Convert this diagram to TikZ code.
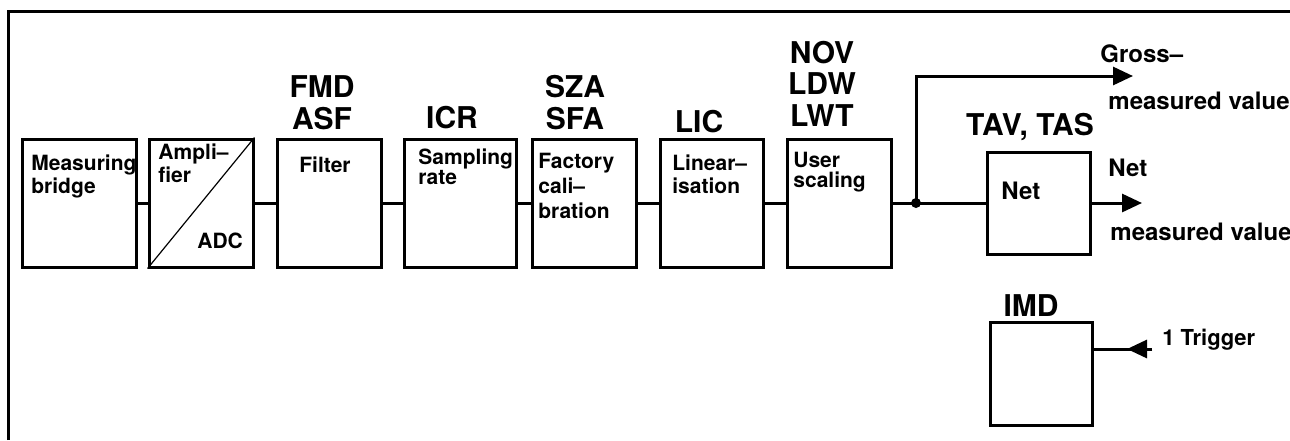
\documentclass[tikz,border=0pt]{standalone}
\usepackage{fontspec}
\setmainfont{TeX Gyre Heros}
\usetikzlibrary{arrows.meta}
\tikzset{
  blk/.style={draw, line width=1.5pt, inner sep=0pt, minimum height=64pt},
  txt/.style={inner sep=0pt, anchor=base west, align=left, font=\bfseries\fontsize{10.5pt}{10pt}\selectfont},
  code/.style={inner sep=0pt, anchor=base, align=center, font=\bfseries\fontsize{15pt}{15.75pt}\selectfont},
  outtxt/.style={inner sep=0pt, anchor=base west, font=\bfseries\fontsize{12pt}{12pt}\selectfont},
  wire/.style={line width=1.5pt},
  arr/.style={wire, -{Triangle[length=10pt,width=9pt]}}
}
\begin{document}
\begin{tikzpicture}[x=0.5pt,y=-0.5pt]
		    \useasboundingbox (0,0) rectangle (1290,440);
		    \draw[wire] (8,440) -- (8,11) -- (1290,11);
		    \begin{scope}
		      \foreach \n/\x/\w in {mb/79/57, adc/201/52, flt/329/52, icr/460/56, cal/584/52, lin/711.5/51.5, usr/839/52} {
		        \node (\n) at (\x,203) [blk, minimum width=\w pt] {};
		      }
		      \foreach \a/\b in {mb/adc, adc/flt, flt/icr, icr/cal, cal/lin, lin/usr} {
		        \draw[wire] (\a) -- (\b);
		      }
		      \draw[line width=0.6pt] (adc.south west) -- (adc.north east);
		      % multi-line nodes sit on the baseline of their last line
		      \node (tmb) at (31,193) [txt] {Measuring\\bridge};
		      \node (tamp) at (158,182) [txt] {Ampli--\\fier};
		      \node (tadc) at (197,248) [txt] {ADC};
		      \node (tflt) at (299,172) [txt] {Filter};
		      \node (ticr) at (418,184) [txt] {Sampling\\rate};
		      \node (tcal) at (538,218) [txt, font=\bfseries\fontsize{10.5pt}{12.5pt}\selectfont] {Factory\\cali--\\bration};
		      \node (tlin) at (672,193) [txt, font=\bfseries\fontsize{10.5pt}{11.5pt}\selectfont] {Linear--\\isation};
		      \node (tusr) at (793,187) [txt] {User\\scaling};
		      \node (cflt) at (322,129) [code] {FMD\\ASF};
		      \node (cicr) at (452,128) [code] {ICR};
		      \node (ccal) at (575,129) [code] {SZA\\SFA};
		      \node (clin) at (699,132) [code] {LIC};
		      \node (cusr) at (822,126) [code] {NOV\\LDW\\LWT};
		    \end{scope}
		    \begin{scope}
		      \node (net) at (1038.5,203) [blk, minimum width=51.5pt, minimum height=51pt] {};
		      \node (imd) at (1041,373.5) [blk, minimum width=51pt, minimum height=51.5pt] {};
		      \node (tnet) at (1001,199) [txt, font=\bfseries\fontsize{12pt}{12pt}\selectfont] {Net};
		      \node (cnet) at (1030,135) [code] {TAV, TAS};
		      \node (cimd) at (1031,316) [code] {IMD};
		      \coordinate (jn) at (916,203);
		      \coordinate (gross) at (1133,76);
		      \coordinate (netout) at (1142,203);
		      \coordinate (trg) at (1152,349);
		      \coordinate (trgtip) at (1127,349);
		      \draw[wire] (usr) -- (net);
		      \fill (jn) circle (2.5pt);
		      \draw[arr] (jn) |- (gross);
		      \draw[arr] (net) -- (netout);
		      \draw[wire] (trg) -- (trg -| imd.east);
		      \draw[arr] (trg) -- (trgtip);
		      \node (lgross) at (1100,62) [outtxt] {Gross--};
		      \node (lgross2) at (1108,109) [outtxt] {measured value};
		      \node (lnet) at (1108,176) [outtxt] {Net};
		      \node (lnet2) at (1110,240) [outtxt] {measured value};
		      \node (ltrg) at (1162,345) [outtxt, font=\bfseries\fontsize{11pt}{11pt}\selectfont] {1 Trigger};
		    \end{scope}
      \end{tikzpicture}
\end{document}
